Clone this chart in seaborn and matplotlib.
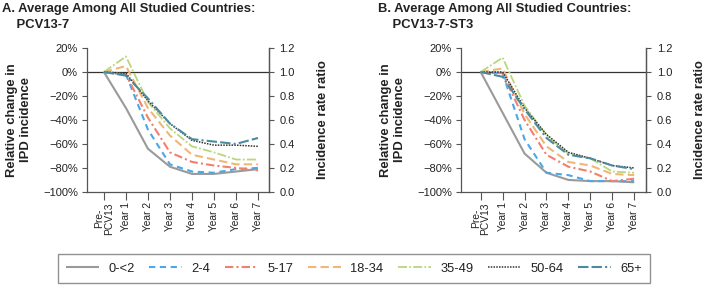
import matplotlib
matplotlib.use("Agg")
import matplotlib.pyplot as plt
from matplotlib.ticker import FuncFormatter
import seaborn as sns
import pandas as pd

sns.set_theme(style="white")
plt.rcParams["font.family"] = ["Liberation Sans", "DejaVu Sans"]
plt.rcParams["axes.unicode_minus"] = True

periods = ["Pre-\nPCV13", "Year 1", "Year 2", "Year 3", "Year 4", "Year 5", "Year 6", "Year 7"]
age_groups = ["0-<2", "2-4", "5-17", "18-34", "35-49", "50-64", "65+"]

# relative change in IPD incidence (%), panel A: PCV13-7
pcv13_7 = {
    "0-<2":  [0, -30, -64, -79, -85, -85, -83, -81],
    "2-4":   [0, -2, -48, -77, -83, -84, -81, -80],
    "5-17":  [0, -2, -38, -67, -75, -78, -80, -82],
    "18-34": [0, 5, -30, -53, -69, -73, -77, -77],
    "35-49": [0, 13, -25, -47, -62, -67, -73, -73],
    "50-64": [0, -1, -24, -43, -57, -61, -61, -62],
    "65+":   [0, -3, -22, -43, -56, -58, -60, -55],
}
# panel B: PCV13-7-ST3
pcv13_7_st3 = {
    "0-<2":  [0, -34, -68, -84, -90, -91, -91, -92],
    "2-4":   [0, -1, -56, -84, -86, -91, -91, -91],
    "5-17":  [0, -1, -40, -69, -79, -83, -91, -89],
    "18-34": [0, 3, -35, -62, -75, -78, -85, -86],
    "35-49": [0, 12, -28, -53, -68, -72, -83, -84],
    "50-64": [0, 0, -30, -52, -67, -72, -78, -80],
    "65+":   [0, -4, -31, -55, -69, -72, -78, -81],
}

colors = ["#9a9a9a", "#4aa8e8", "#f2806f", "#f0b777", "#b9d77c", "#333333", "#4b8ba1"]
dashes = [(1, 0), (3, 2.2), (4, 1.5, 1, 1.5), (4, 2), (5, 1.2, 1, 1.2), (1, 0.8), (5, 1.5, 5, 1.5, 1, 1.5)]
widths = [1.5, 1.5, 1.5, 1.5, 1.3, 1.1, 1.5]
ink = "#222222"
spine_col = "#555555"


def to_long(data):
    rows = []
    for g in age_groups:
        for i, v in enumerate(data[g]):
            rows.append({"period": i, "change": v, "age": g})
    return pd.DataFrame(rows)


fig = plt.figure(figsize=(7.07, 2.86), dpi=100)
panels = [
    ("A. Average Among All Studied Countries:\n    PCV13-7", pcv13_7, [0.123, 0.329, 0.2575, 0.503], (-0.77, 7.5), 0.003),
    ("B. Average Among All Studied Countries:\n    PCV13-7-ST3", pcv13_7_st3, [0.652, 0.329, 0.262, 0.503], (-0.9, 7.55), 0.535),
]

line_handles = None
for title, data, rect, xlim, tx in panels:
    ax = fig.add_axes(rect)
    df = to_long(data)
    sns.lineplot(data=df, x="period", y="change", hue="age", style="age",
                 palette=colors, dashes=dashes, hue_order=age_groups,
                 style_order=age_groups, ax=ax, legend=True)
    for ln, w in zip(ax.get_lines(), widths):
        ln.set_linewidth(w)
    ax.axhline(0, color="#333333", lw=0.9, zorder=0)
    ax.set_xlim(*xlim)
    ax.set_ylim(-100, 20)
    ax.set_yticks(range(-100, 21, 20))
    ax.yaxis.set_major_formatter(FuncFormatter(lambda v, p: f"{v:.0f}%".replace("-", "\u2212")))
    ax.set_xticks(range(len(periods)))
    ax.set_xticklabels(periods, rotation=90, fontsize=7.4, linespacing=0.95)
    ax.tick_params(axis="y", labelsize=8, length=3.5, width=0.8, color=spine_col,
                   labelcolor=ink, pad=3, left=True)
    ax.tick_params(axis="x", length=6, width=0.8, color=spine_col, labelcolor=ink,
                   pad=1.5, bottom=True)
    for s in ["left", "right", "bottom"]:
        ax.spines[s].set_color(spine_col)
        ax.spines[s].set_linewidth(0.9)
    ax.spines["top"].set_visible(False)
    ax.set_xlabel("")
    ax.set_ylabel("Relative change in\nIPD incidence", fontsize=9.4, fontweight="bold",
                  color=ink, linespacing=1.25, labelpad=8)
    handles, labels = ax.get_legend_handles_labels()
    line_handles = (handles, labels)
    ax.get_legend().remove()

    ax2 = ax.twinx()
    ax2.set_ylim(0, 1.2)
    ratio_ticks = [0, 0.2, 0.4, 0.6, 0.8, 1.0, 1.2]
    ax2.set_yticks(ratio_ticks)
    ax2.set_yticklabels([f"{v:.1f}" for v in ratio_ticks])
    ax2.tick_params(axis="y", labelsize=8, length=3.5, width=0.8, color=spine_col,
                    labelcolor=ink, pad=4, right=True)
    for s in ["top", "left", "bottom"]:
        ax2.spines[s].set_visible(False)
    ax2.spines["right"].set_color(spine_col)
    ax2.spines["right"].set_linewidth(0.9)
    ax2.set_ylabel("Incidence rate ratio", fontsize=9.4, fontweight="bold", color=ink, labelpad=16)

    fig.text(tx, 0.99, title, ha="left", va="top", fontsize=9.4, fontweight="bold",
             color=ink, linespacing=1.45)

handles, labels = line_handles
for h, w in zip(handles, widths):
    h.set_linewidth(w)
leg = fig.legend(handles, labels, loc="center", bbox_to_anchor=(0.5007, 0.061),
                 ncol=7, fontsize=9.3, frameon=True, fancybox=False,
                 handlelength=2.55, handletextpad=0.7, columnspacing=1.16,
                 borderpad=0.65, borderaxespad=0)
leg.get_frame().set_edgecolor("#777777")
leg.get_frame().set_linewidth(1.0)
for t in leg.get_texts():
    t.set_color(ink)

fig.savefig("out.png", dpi=100)
